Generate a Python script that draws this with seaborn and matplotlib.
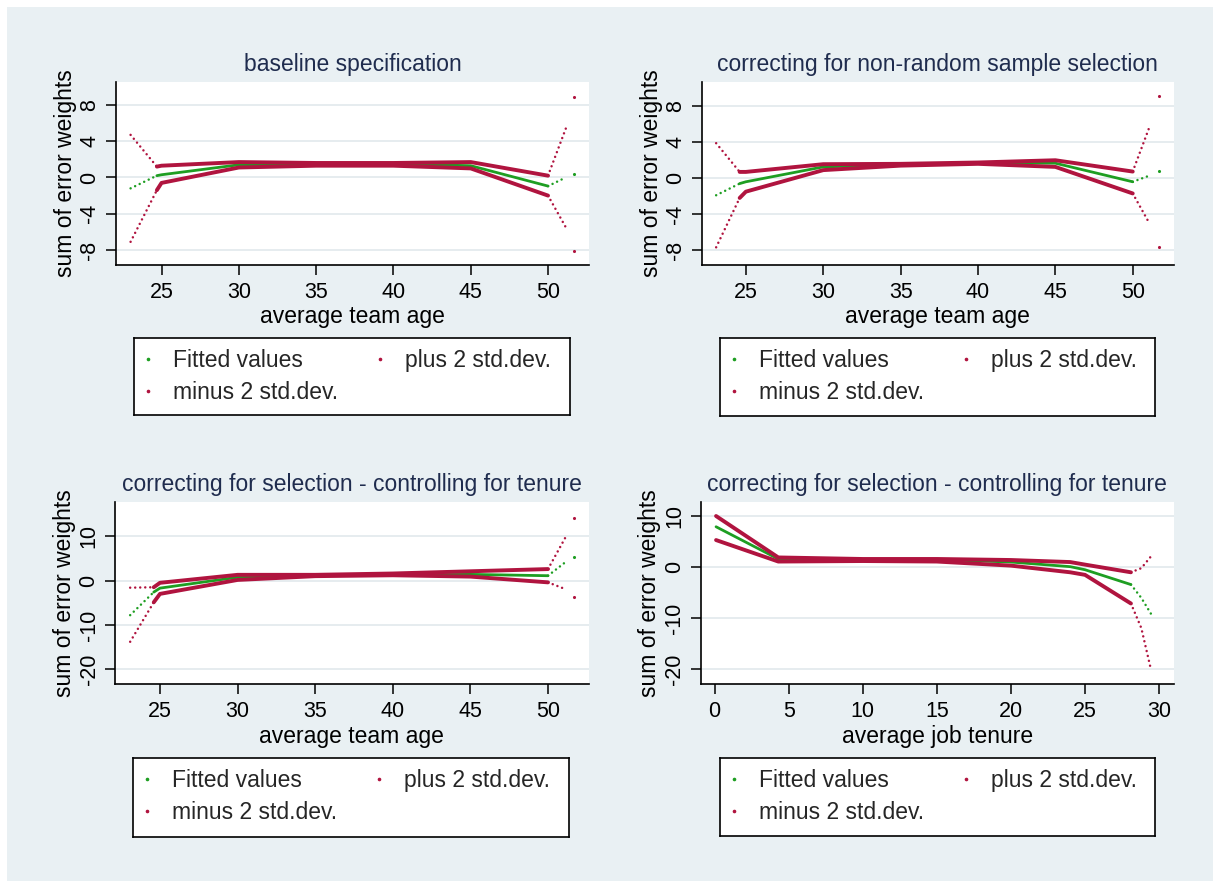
import matplotlib
matplotlib.use("Agg")
import matplotlib.pyplot as plt
import seaborn as sns
import pandas as pd
from matplotlib.lines import Line2D
from matplotlib.patches import Rectangle

# ---- data: knots of the fitted curve and the +/- 2 s.d. bands ----
# baseline specification (x = average team age)
base_age = [23.0, 24.7, 25.0, 30.0, 35.0, 40.0, 45.0, 50.0, 51.15, 51.7]
base_fit = [-1.2, 0.2, 0.3, 1.4, 1.5, 1.5, 1.3, -0.95, 0.0, 0.4]
base_hi = [4.7, 1.2, 1.3, 1.7, 1.6, 1.6, 1.7, 0.2, 5.4, 8.9]
base_lo = [-7.1, -1.4, -0.6, 1.1, 1.3, 1.3, 1.0, -2.0, -5.5, -8.1]

# correcting for non-random sample selection
sel_age = [23.08, 24.6, 25.0, 30.0, 35.0, 40.0, 45.0, 50.0, 51.1, 51.7]
sel_fit = [-1.9, -0.6, -0.4, 1.26, 1.5, 1.7, 1.67, -0.4, 0.3, 0.8]
sel_hi = [3.9, 0.7, 0.7, 1.56, 1.6, 1.75, 2.0, 0.74, 5.8, 9.2]
sel_lo = [-7.7, -2.2, -1.5, 0.9, 1.4, 1.6, 1.26, -1.7, -5.1, -7.7]

# correcting for selection, controlling for tenure (x = average team age)
ten_age = [23.08, 24.6, 25.0, 30.0, 35.0, 40.0, 45.0, 50.0, 51.1, 51.7]
ten_fit = [-7.8, -2.6, -1.7, 0.75, 1.2, 1.3, 1.4, 1.1, 4.1, 5.4]
ten_hi = [-1.6, -1.5, -0.5, 1.3, 1.3, 1.6, 2.1, 2.6, 9.6, 14.2]
ten_lo = [-13.8, -4.9, -3.0, 0.15, 1.0, 1.2, 0.9, -0.4, -1.9, -3.6]

# correcting for selection, controlling for tenure (x = average job tenure)
job_ten = [0.1, 4.3, 10.0, 15.0, 20.0, 24.0, 25.0, 28.1, 28.8, 29.45]
job_fit = [7.9, 1.6, 1.5, 1.5, 1.0, 0.1, -0.5, -3.4, -6.0, -9.1]
job_hi = [10.0, 1.9, 1.6, 1.6, 1.4, 1.0, 0.5, -1.0, -0.2, 2.1]
job_lo = [5.3, 1.1, 1.2, 1.1, 0.3, -1.0, -1.5, -7.1, -11.9, -20.0]

age_ticks = [25, 30, 35, 40, 45, 50]
tenure_ticks = [0, 5, 10, 15, 20, 25, 30]
small_yticks = [-8, -4, 0, 4, 8]
large_yticks = [-20, -10, 0, 10]

titles = ["baseline specification",
          "correcting for non-random sample selection",
          "correcting for selection - controlling for tenure",
          "correcting for selection - controlling for tenure"]
xlabels = ["average team age", "average team age",
           "average team age", "average job tenure"]
ylabel = "sum of error weights"
legend_labels = ["Fitted values", "minus 2 std.dev.", "plus 2 std.dev."]

# ---- styling ----
GREEN = "#1E9E22"
RED = "#B0143F"
BG = "#E9F0F3"
TITLE_C = "#1F2C4E"

sns.set_theme(style="white")
plt.rcParams["font.family"] = ["Liberation Sans", "DejaVu Sans"]
plt.rcParams["axes.unicode_minus"] = False

W, H = 1213, 881
fig = plt.figure(figsize=(W / 100, H / 100), dpi=100)
fig.patch.set_facecolor("white")
fig.add_artist(Rectangle((7 / W, 0), 1 - 7 / W, 1 - 7 / H,
                         transform=fig.transFigure, facecolor=BG,
                         edgecolor="none", zorder=-10))

# segments of each series: sparse tail, dense body, sparse tail, lone point
AGE_PARTS = [(0, 2, "sparse"), (1, 8, "dense"), (7, 9, "sparse"), (9, 10, "point")]
TENURE_PARTS = [(0, 8, "dense"), (7, 10, "sparse")]


def draw_series(ax, x, y, color, lw, parts):
    for a, b, kind in parts:
        d = pd.DataFrame({"x": x[a:b], "y": y[a:b]})
        if kind == "dense":
            sns.lineplot(data=d, x="x", y="y", ax=ax, color=color, lw=lw,
                         sort=False, estimator=None, solid_capstyle="round")
        elif kind == "sparse":
            sns.lineplot(data=d, x="x", y="y", ax=ax, color=color, lw=1.8,
                         sort=False, estimator=None,
                         linestyle=(0, (0.01, 2.0)), dash_capstyle="round")
        else:
            sns.scatterplot(data=d, x="x", y="y", ax=ax, color=color,
                            s=5, linewidth=0)


def px_axes(left, top, right, bottom):
    return fig.add_axes([left / W, 1 - bottom / H, (right - left) / W,
                         (bottom - top) / H])


panels = [
    dict(rect=(115.6, 81.7, 589.3, 265.0), x=base_age,
         ys=(base_fit, base_hi, base_lo), parts=AGE_PARTS,
         xlim=(22.03, 52.67), ylim=(-9.66, 10.57),
         xticks=age_ticks, yticks=small_yticks,
         legend=(134, 338, 570, 415)),
    dict(rect=(701.6, 81.7, 1173.9, 265.0), x=sel_age,
         ys=(sel_fit, sel_hi, sel_lo), parts=AGE_PARTS,
         xlim=(22.14, 52.66), ylim=(-9.67, 10.75),
         xticks=age_ticks, yticks=small_yticks,
         legend=(720, 338, 1155, 416)),
    dict(rect=(114.8, 501.7, 589.0, 684.3), x=ten_age,
         ys=(ten_fit, ten_hi, ten_lo), parts=AGE_PARTS,
         xlim=(22.09, 52.64), ylim=(-23.4, 17.8),
         xticks=age_ticks, yticks=large_yticks,
         legend=(133, 758, 569, 837)),
    dict(rect=(700.5, 501.7, 1173.9, 684.3), x=job_ten,
         ys=(job_fit, job_hi, job_lo), parts=TENURE_PARTS,
         xlim=(-0.95, 31.0), ylim=(-22.9, 12.8),
         xticks=tenure_ticks, yticks=large_yticks,
         legend=(720, 758, 1155, 836)),
]

for i, p in enumerate(panels):
    ax = px_axes(*p["rect"])
    ax.set_facecolor("white")
    fit, hi, lo = p["ys"]
    draw_series(ax, p["x"], fit, GREEN, 2.0, p["parts"])
    draw_series(ax, p["x"], hi, RED, 2.8, p["parts"])
    draw_series(ax, p["x"], lo, RED, 2.8, p["parts"])

    ax.set_xlim(*p["xlim"])
    ax.set_ylim(*p["ylim"])
    ax.set_xticks(p["xticks"])
    ax.set_yticks(p["yticks"])
    ax.yaxis.grid(True, color="#E4EBEE", lw=1.3)
    ax.xaxis.grid(False)
    ax.set_axisbelow(True)
    for s in ("top", "right"):
        ax.spines[s].set_visible(False)
    for s in ("left", "bottom"):
        ax.spines[s].set_color("black")
        ax.spines[s].set_linewidth(1.2)
    ax.tick_params(axis="both", direction="out", length=7, width=1.1,
                   color="black", labelcolor="black", labelsize=15.5,
                   left=True, bottom=True)
    ax.tick_params(axis="x", pad=5)
    ax.tick_params(axis="y", pad=4, labelrotation=90)
    for lab in ax.get_yticklabels():
        lab.set_va("center")
    ax.set_title(titles[i], color=TITLE_C, fontsize=16.5, pad=8)
    ax.set_xlabel(xlabels[i], fontsize=16.5, color="black", labelpad=2)
    ax.set_ylabel(ylabel, fontsize=16.5, color="black", labelpad=2)

    # legend box under each panel
    l, t, r, b = p["legend"]
    lax = px_axes(l, t, r, b)
    lax.set_facecolor("white")
    lax.set_xticks([])
    lax.set_yticks([])
    for s in lax.spines.values():
        s.set_color("black")
        s.set_linewidth(1.2)
        s.set_visible(True)
    handles = [Line2D([], [], ls="none", marker="o", ms=1.6, color=GREEN, mec=GREEN),
               Line2D([], [], ls="none", marker="o", ms=1.6, color=RED, mec=RED),
               Line2D([], [], ls="none", marker="o", ms=1.6, color=RED, mec=RED)]
    lax.legend(handles, legend_labels, ncol=2, frameon=False,
               loc="upper left", bbox_to_anchor=(5 / (r - l), 1 - 11 / (b - t)),
               borderpad=0, borderaxespad=0, handlelength=0.8,
               handletextpad=0.7, columnspacing=1.4, labelspacing=0.4,
               fontsize=16.5)

fig.savefig("out.png", dpi=100, facecolor=fig.get_facecolor())
